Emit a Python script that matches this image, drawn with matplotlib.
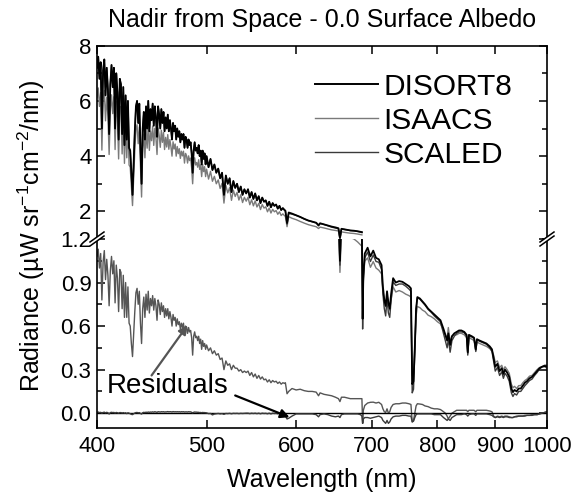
import numpy as np
import matplotlib
matplotlib.use('Agg')
import matplotlib.pyplot as plt
from matplotlib.ticker import FixedLocator, NullLocator, MultipleLocator
from matplotlib.lines import Line2D
from matplotlib.patches import Polygon

plt.rcParams['font.family'] = ['Liberation Sans', 'DejaVu Sans']
plt.rcParams['mathtext.fontset'] = 'custom'
plt.rcParams['mathtext.rm'] = 'Liberation Sans'
plt.rcParams['mathtext.it'] = 'Liberation Sans:italic'
plt.rcParams['mathtext.default'] = 'regular'

# ---------------- data ----------------
# 400-500 nm, 1 nm steps
WL_A = list(range(400, 501))
D_A = [7.2, 7.6, 6.8, 7.4, 5.0, 7.1, 7.5, 6.2, 7.2, 6.4,
       4.8, 6.6, 7.3, 6.5, 7.2, 5.0, 7.0, 6.3, 4.6, 6.8,
       6.6, 4.8, 6.5, 4.4, 6.2, 4.6, 6.0, 4.3, 4.2, 3.4,
       2.6, 3.8, 4.9, 5.8, 6.0, 5.2, 5.9, 4.3, 3.0, 5.0,
       5.6, 4.6, 5.8, 5.0, 6.0, 4.9, 5.7, 5.3, 5.9, 5.1,
       5.8, 5.4, 4.7, 5.8, 5.5, 5.0, 5.7, 5.2, 5.6, 4.9,
       5.4, 5.0, 5.5, 4.9, 5.3, 5.0, 4.6, 5.2, 4.9, 5.1,
       4.6, 5.0, 4.7, 4.9, 4.5, 4.8, 4.6, 4.8, 4.3, 4.7,
       4.6, 4.3, 4.6, 4.4, 4.5, 4.1, 3.4, 4.2, 4.5, 4.2,
       4.3, 4.1, 4.4, 4.0, 4.2, 3.7, 4.2, 3.9, 4.1, 3.7,
       4.0]
RI_A = [1.08, 1.13, 1.00, 1.10, 0.78, 1.04, 1.12, 0.92, 1.06, 0.95,
        0.74, 0.98, 1.08, 0.96, 1.05, 0.76, 1.02, 0.93, 0.70, 0.99,
        0.97, 0.72, 0.95, 0.66, 0.90, 0.66, 0.87, 0.62, 0.60, 0.48,
        0.39, 0.55, 0.70, 0.83, 0.86, 0.75, 0.84, 0.62, 0.48, 0.72,
        0.80, 0.66, 0.82, 0.71, 0.84, 0.69, 0.79, 0.74, 0.81, 0.71,
        0.79, 0.74, 0.64, 0.78, 0.75, 0.68, 0.76, 0.70, 0.74, 0.66,
        0.72, 0.67, 0.72, 0.65, 0.70, 0.66, 0.60, 0.68, 0.64, 0.66,
        0.60, 0.65, 0.61, 0.63, 0.58, 0.62, 0.59, 0.62, 0.55, 0.60,
        0.59, 0.55, 0.59, 0.56, 0.57, 0.52, 0.40, 0.53, 0.56, 0.52,
        0.53, 0.50, 0.53, 0.48, 0.51, 0.44, 0.50, 0.46, 0.48, 0.44,
        0.47]
RS_A = [0.005, 0.008, 0.004, 0.006, 0.0, 0.005, 0.007, 0.002, 0.006, 0.003,
        -0.006, 0.004, 0.006, 0.004, 0.005, 0.001, 0.005, 0.003, 0.0, 0.004,
        0.004, 0.001, 0.004, 0.0, 0.003, -0.003, 0.003, 0.0, -0.004, -0.008,
        -0.01, -0.004, 0.001, 0.004, 0.005, 0.002, 0.004, -0.002, -0.006, 0.003,
        0.006, 0.004, 0.007, 0.005, 0.008, 0.006, 0.008, 0.007, 0.009, 0.007,
        0.01, 0.008, 0.006, 0.01, 0.009, 0.008, 0.01, 0.009, 0.01, 0.008,
        0.009, 0.009, 0.011, 0.009, 0.01, 0.01, 0.008, 0.011, 0.009, 0.01,
        0.009, 0.01, 0.009, 0.01, 0.008, 0.01, 0.009, 0.01, 0.008, 0.009,
        0.009, 0.008, 0.01, 0.009, 0.009, 0.006, 0.002, 0.006, 0.008, 0.007,
        0.007, 0.006, 0.006, 0.004, 0.005, 0.003, 0.005, 0.004, 0.004, 0.003,
        0.002]

# 502-586 nm, 2 nm steps
WL_B = list(range(502, 587, 2))
D_B = [3.6, 3.9, 3.5, 3.7, 3.4, 3.55, 3.2, 3.4, 2.6,
       3.3, 3.0, 3.2, 2.7, 3.1, 2.85, 3.0, 2.7, 2.9, 2.6, 2.8,
       2.65, 2.8, 2.5, 2.7, 2.45, 2.65, 2.4, 2.55, 2.3, 2.5,
       2.35, 2.4, 2.2, 2.35, 2.15, 2.3, 2.2, 2.25, 2.1, 2.2,
       2.05, 2.12, 2.05]
RI_B = [0.43, 0.45, 0.41, 0.43, 0.40, 0.41, 0.37, 0.38, 0.30,
        0.36, 0.33, 0.34, 0.30, 0.33, 0.31, 0.31, 0.29, 0.30, 0.28, 0.29,
        0.28, 0.29, 0.26, 0.28, 0.25, 0.27, 0.24, 0.26, 0.235, 0.25,
        0.23, 0.235, 0.215, 0.23, 0.21, 0.225, 0.215, 0.22, 0.205, 0.215,
        0.20, 0.21, 0.205]
RS_B = [-0.003, -0.002, -0.012, -0.006, -0.004, -0.002, -0.005, -0.003, -0.008,
        -0.002, -0.003, -0.001, -0.004, -0.001, -0.002, -0.001, -0.003, -0.001, -0.002, -0.001,
        0.0, 0.0, -0.003, 0.0, -0.002, 0.0, -0.003, 0.0, -0.004, 0.0,
        -0.002, -0.001, -0.004, 0.0, -0.005, 0.0, -0.002, -0.001, -0.004, 0.0,
        -0.006, -0.004, -0.01]

# 587-1000 nm
WL_C = [587, 589, 591, 595, 600, 605, 610, 615, 620,
        625, 628, 630, 635, 640, 645, 650, 654, 656, 658,
        662, 666, 670, 675, 680, 684, 686, 687, 688, 690,
        694, 698, 702, 706, 710, 714, 716, 718, 720, 722,
        724, 726, 728, 731, 735, 740, 745, 750, 755, 758,
        759, 760, 762, 764, 766, 768, 772, 776, 780, 785,
        790, 795, 800, 805, 810, 813, 816, 818, 821, 824,
        828, 832, 836, 840, 845, 849, 851, 853, 858, 862,
        865, 867, 872, 878, 884, 890, 894, 897, 900, 904,
        908, 912, 915, 918, 922, 926, 930, 933, 936, 940,
        944, 948, 952, 956, 960, 965, 970, 975, 980, 985,
        990, 995, 1000]
D_C = [2.03, 1.58, 1.96, 1.92, 1.86, 1.80, 1.73, 1.67, 1.63,
       1.59, 1.50, 1.57, 1.53, 1.49, 1.45, 1.42, 1.39, 1.05, 1.37,
       1.35, 1.33, 1.31, 1.30, 1.28, 1.26, 1.25, 0.65, 0.95, 1.10,
       1.14, 1.08, 1.12, 1.07, 1.06, 1.02, 0.87, 0.78, 0.74, 0.84,
       0.76, 0.72, 0.82, 0.93, 0.90, 0.91, 0.905, 0.89, 0.875, 0.86,
       0.50, 0.20, 0.22, 0.45, 0.72, 0.80, 0.79, 0.77, 0.75, 0.72,
       0.70, 0.68, 0.66, 0.64, 0.58, 0.54, 0.50, 0.55, 0.47, 0.53,
       0.55, 0.56, 0.57, 0.57, 0.56, 0.54, 0.42, 0.54, 0.53, 0.52,
       0.44, 0.51, 0.50, 0.49, 0.48, 0.46, 0.44, 0.38, 0.32, 0.34,
       0.29, 0.31, 0.27, 0.30, 0.28, 0.25, 0.17, 0.145, 0.16, 0.15,
       0.17, 0.17, 0.19, 0.21, 0.22, 0.24, 0.25, 0.27, 0.29, 0.31,
       0.32, 0.325, 0.32]
RI_C = [0.21, 0.134, 0.15, 0.17, 0.16, 0.165, 0.155, 0.15, 0.15,
        0.145, 0.12, 0.14, 0.13, 0.125, 0.12, 0.11, 0.10, 0.08, 0.11,
        0.11, 0.105, 0.10, 0.10, 0.10, 0.10, 0.10, -0.07, 0.02, 0.053,
        0.07, 0.075, 0.076, 0.07, 0.075, 0.06, 0.03, 0.01, 0.005, 0.03,
        0.0, 0.01, 0.04, 0.06, 0.065, 0.065, 0.07, 0.07, 0.065, 0.06,
        0.0, -0.06, -0.05, 0.0, 0.05, 0.065, 0.063, 0.06, 0.05, 0.045,
        0.035, 0.03, 0.03, 0.025, 0.01, 0.0, -0.02, -0.04, -0.02, 0.0,
        0.01, 0.02, 0.02, 0.02, 0.02, 0.02, 0.01, 0.02, 0.02, 0.02,
        0.01, 0.02, 0.02, 0.02, 0.02, 0.015, 0.01, -0.02, -0.03, -0.02,
        -0.025, -0.02, -0.025, -0.02, -0.02, -0.025, -0.03, -0.03, -0.025, -0.02,
        -0.02, -0.02, -0.02, -0.015, -0.015, -0.015, -0.01, -0.01, -0.01, -0.005,
        0.0, 0.005, 0.01]
RS_C = [-0.02, -0.04, -0.035, -0.02, -0.005, -0.005, -0.005, -0.005, -0.005,
        -0.01, -0.025, -0.01, -0.005, -0.01, -0.02, -0.025, -0.02, -0.03, -0.01,
        -0.005, -0.005, -0.005, -0.005, -0.005, -0.01, -0.02, -0.07, -0.04, -0.03,
        -0.03, -0.035, -0.03, -0.025, -0.02, -0.03, -0.05, -0.06, -0.07, -0.05,
        -0.07, -0.06, -0.04, -0.025, -0.02, -0.02, -0.015, -0.015, -0.02, -0.02,
        -0.04, -0.06, -0.055, -0.03, -0.01, -0.005, -0.005, -0.005, -0.005, -0.005,
        -0.005, -0.01, -0.01, -0.01, -0.03, -0.04, -0.05, -0.04, -0.05, -0.03,
        -0.02, -0.01, -0.01, -0.01, -0.005, -0.01, -0.02, -0.01, -0.005, -0.005,
        -0.015, -0.005, -0.005, -0.005, -0.005, -0.01, -0.015, -0.025, -0.03, -0.025,
        -0.03, -0.025, -0.03, -0.025, -0.025, -0.03, -0.03, -0.03, -0.025, -0.025,
        -0.02, -0.02, -0.02, -0.02, -0.015, -0.015, -0.015, -0.01, -0.01, -0.005,
        0.0, 0.005, 0.01]

XTICKS = [400, 500, 600, 700, 800, 900, 1000]
YTICKS_TOP = [2, 4, 6, 8]
YTICKS_BOT = [0.0, 0.3, 0.6, 0.9, 1.2]
SERIES = ['DISORT8', 'ISAACS', 'SCALED']

wl = np.array(WL_A + WL_B + WL_C, dtype=float)
disort8 = np.array(D_A + D_B + D_C)
res_isaacs = np.array(RI_A + RI_B + RI_C)      # DISORT8 - ISAACS
res_scaled = np.array(RS_A + RS_B + RS_C)      # SCALED - DISORT8
isaacs = disort8 - res_isaacs
scaled = disort8 + res_scaled

# ---------------- figure ----------------
W, H = 579, 496
fig = plt.figure(figsize=(W / 100, H / 100), dpi=100)
L, R = 97, 547
T_TOP, BRK, B_BOT = 45.7, 239.0, 427.7
ax_t = fig.add_axes([L / W, 1 - BRK / H, (R - L) / W, (BRK - T_TOP) / H])
ax_b = fig.add_axes([L / W, 1 - B_BOT / H, (R - L) / W, (B_BOT - BRK) / H])

C_D, C_I, C_S, C_RI = '#000000', '#7a7a7a', '#3a3a3a', '#555555'

upper = wl <= 686
for ax, m in ((ax_t, upper), (ax_b, np.ones_like(upper))):
    ax.plot(wl[m], isaacs[m], color=C_I, lw=1.0)
    ax.plot(wl[m], scaled[m], color=C_S, lw=1.0)
    ax.plot(wl[m], disort8[m], color=C_D, lw=1.3)

ax_b.plot(wl, res_isaacs, color=C_RI, lw=1.0)
ax_b.axhline(0, color='k', lw=1.0)
ax_b.plot(wl, res_scaled, color=C_S, lw=1.0)

for ax in (ax_t, ax_b):
    ax.set_xscale('log')
    ax.set_xlim(400, 1000)
    ax.xaxis.set_major_locator(FixedLocator(XTICKS))
    ax.xaxis.set_minor_locator(NullLocator())
    ax.set_xticklabels([str(v) for v in XTICKS])
    for s in ax.spines.values():
        s.set_linewidth(1.2)
    ax.tick_params(which='both', direction='in', left=True, right=True,
                   width=1.1, labelsize=16, pad=4)
    ax.tick_params(which='major', length=6)
    ax.tick_params(which='minor', length=3.5)

ax_t.set_ylim(1.0, 8.0)
ax_t.yaxis.set_major_locator(FixedLocator(YTICKS_TOP))
ax_t.yaxis.set_minor_locator(MultipleLocator(1))
ax_t.set_yticklabels([str(v) for v in YTICKS_TOP])
ax_t.spines['bottom'].set_visible(False)
ax_t.tick_params(axis='x', bottom=False, top=True, labelbottom=False)

ax_b.set_ylim(-0.1, 1.2)
ax_b.yaxis.set_major_locator(FixedLocator(YTICKS_BOT))
ax_b.yaxis.set_minor_locator(MultipleLocator(0.15))
ax_b.set_yticklabels([f'{v:.1f}' for v in YTICKS_BOT])
ax_b.spines['top'].set_visible(False)
ax_b.tick_params(axis='x', bottom=True, top=False, pad=6)

# legend
handles = [Line2D([], [], color=C_D, lw=1.4), Line2D([], [], color=C_I, lw=1.0),
           Line2D([], [], color=C_S, lw=1.0)]
ax_t.legend(handles, SERIES, loc='upper left', bbox_to_anchor=(0.484, 0.86),
            frameon=False, fontsize=21.5, handlelength=2.1, handletextpad=0.2,
            labelspacing=0.2, borderpad=0, borderaxespad=0)

# residual annotations
ax_b.text(408, 0.185, 'Residuals', fontsize=20, va='center', ha='left')
ax_b.annotate('', xy=(481, 0.606), xytext=(447, 0.26),
              arrowprops=dict(arrowstyle='-|>', color=C_RI, lw=1.6,
                              mutation_scale=13, shrinkA=0, shrinkB=0))
ax_b.annotate('', xy=(592, -0.028), xytext=(530, 0.122),
              arrowprops=dict(arrowstyle='-|>', color='k', lw=1.6,
                              mutation_scale=13, shrinkA=0, shrinkB=0))

# break marks on both vertical spines
yb = 1 - BRK / H
for xs in (L, R):
    x0 = xs / W
    dx, dy, gap = 7 / W, 5 / H, 4 / H
    poly = Polygon([(x0 - dx, yb - dy - gap / 2), (x0 + dx, yb + dy - gap / 2),
                    (x0 + dx, yb + dy + gap / 2), (x0 - dx, yb - dy + gap / 2)],
                   closed=True, facecolor='white', edgecolor='none',
                   transform=fig.transFigure, zorder=10)
    fig.add_artist(poly)
    for off in (-gap / 2, gap / 2):
        fig.add_artist(Line2D([x0 - dx, x0 + dx], [yb - dy + off, yb + dy + off],
                              color='k', lw=1.1, transform=fig.transFigure, zorder=11))

fig.text(322 / W, 1 - 20 / H, 'Nadir from Space - 0.0 Surface Albedo',
         fontsize=18, ha='center', va='center')
fig.text(322 / W, 1 - 480 / H, 'Wavelength (nm)', fontsize=18,
         ha='center', va='center')
fig.text(31 / W, 1 - 236 / H, 'Radiance (µW sr$^{-1}$cm$^{-2}$/nm)', fontsize=18,
         rotation=90, ha='center', va='center')

fig.savefig('out.png', dpi=100)
